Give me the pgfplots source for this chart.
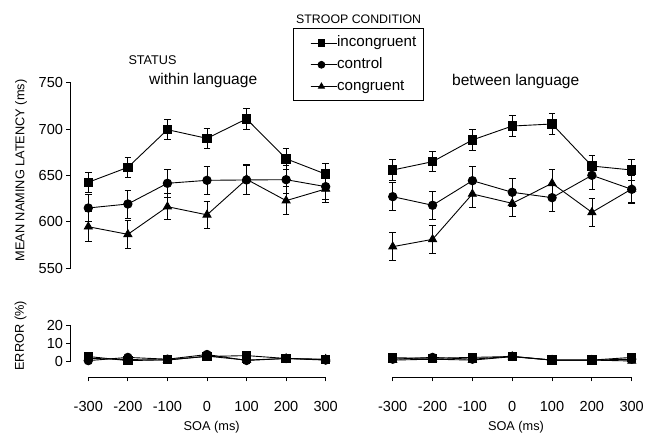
\documentclass[border=0pt]{standalone}
\usepackage{fontspec}
\setmainfont{Liberation Sans}
\usepackage{pgfplots}
\pgfplotsset{compat=1.18}
\usepackage{pgfplotstable}

% ---- latency data (ms) with error bars ----
\pgfplotstableread{
x y e
-300 642.7 11
-200 658.8 11
-100 699.4 11
0 690.0 11
100 711.0 11
200 668.0 11
300 651.5 11
}\LIncong
\pgfplotstableread{
x y e
-300 615.0 15
-200 619.3 15
-100 641.6 15
0 644.8 15
100 645.2 16
200 645.5 15
300 638.0 14
}\LControl
\pgfplotstableread{
x y e
-300 594.8 16
-200 586.6 15
-100 616.4 14
0 607.6 15
100 645.9 16
200 622.9 15
300 635.5 15
}\LCong
\pgfplotstableread{
x y e
-300 655.9 11
-200 664.9 11
-100 688.3 11
0 703.3 11
100 705.5 11
200 660.2 11
300 655.9 11
}\RIncong
\pgfplotstableread{
x y e
-300 627.2 15
-200 617.9 15
-100 644.4 15
0 631.9 15
100 626.1 15
200 650.2 15
300 635.1 15
}\RControl
\pgfplotstableread{
x y e
-300 573.3 15
-200 581.2 15
-100 630.1 14
0 620.0 14.5
100 641.6 15
200 610.3 15
300 635.5 15
}\RCong
% ---- error rates (%) ----
\pgfplotstableread{
x inc con cng
-300 2.5 0.2 1.5
-200 0.2 2.0 0.8
-100 0.7 1.0 0.5
0 2.5 3.6 2.7
100 3.0 0.3 0.5
200 1.4 1.4 1.4
300 0.7 0.5 1.0
}\LErr
\pgfplotstableread{
x inc con cng
-300 1.8 1.0 0.5
-200 1.5 2.0 1.0
-100 2.0 1.0 0.5
0 2.5 2.6 2.4
100 0.5 0.5 0.5
200 0.5 0.5 0.5
300 2.0 1.0 0.0
}\RErr

\newcommand\legfont{\fontsize{15.2}{17}\selectfont}

\pgfplotsset{
  base/.style={scale only axis, clip=false,
    /pgf/number format/assume math mode=true,
    tick label style={font=\fontsize{14.6}{16}\selectfont, black},
    tick align=outside, major tick length=4bp,
    tick style={black, line width=0.8pt},
    axis line style={line width=0.8pt, black},
    label style={font=\fontsize{12.8}{14}\selectfont}},
  ser/.style={black, line width=0.9pt, mark size=4.2bp,
    mark options={solid, fill=black}},
  ser2/.style={ser, mark size=4.6bp},
  eb/.style={error bars/.cd, y dir=both, y explicit, error mark=-,
    error mark options={rotate=90, mark size=3.3bp, line width=0.8pt, black},
    error bar style={line width=0.8pt, black}},
}

\begin{document}
\begin{tikzpicture}
\useasboundingbox (0bp,0bp) rectangle (646bp,436bp);

% legend frame
\draw[line width=0.8pt] (293.3bp,336bp) rectangle (423.3bp,407.7bp);

% ===== left latency =====
\begin{axis}[base, at={(70.5bp,167.7bp)}, anchor=south west,
  width=263.1bp, height=185.6bp,
  xmin=-345, xmax=320, ymin=550, ymax=750,
  axis y line*=left, axis x line=none, xtick=\empty,
  ytick={550,600,650,700,750}, ytick pos=left,
  ylabel={MEAN NAMING LATENCY (ms)},
  y label style={at={(axis description cs:-0.188,0.527)}, anchor=center},
  legend cell align=left,
  legend image code/.code={%
     \path (0bp,0bp) -- (26bp,0bp);
     \draw[mark repeat=2,mark phase=2,#1,mark size=3.4bp]
     plot coordinates {(0bp,0bp) (10.8bp,0bp) (21.6bp,0bp)};},
  legend style={at={(0.9103,1.0965)}, anchor=west, draw=none, fill=none,
    inner sep=0bp, row sep=7.2bp, font=\legfont,
    nodes={inner sep=0bp, text height=11bp, text depth=3.5bp}},
]
\addplot[ser, mark=square*, eb] table[x=x, y=y, y error=e] {\LIncong};
\addlegendentry{incongruent}
\addplot[ser, mark=*, eb] table[x=x, y=y, y error=e] {\LControl};
\addlegendentry{control}
\addplot[ser2, mark=triangle*, eb] table[x=x, y=y, y error=e] {\LCong};
\addlegendentry{congruent}
\end{axis}

% ===== left error =====
\begin{axis}[base, at={(70.5bp,75bp)}, anchor=south west,
  width=263.1bp, height=36bp,
  xmin=-345, xmax=320, ymin=0, ymax=20,
  axis y line*=left, axis x line=none, xtick=\empty,
  ytick={0,10,20}, ytick pos=left,
  ylabel={ERROR (\%)},
  y label style={at={(axis description cs:-0.190,0.70)}, anchor=center},
]
\addplot[ser, mark=square*] table[x=x, y=inc] {\LErr};
\addplot[ser, mark=*] table[x=x, y=con] {\LErr};
\addplot[ser2, mark=triangle*] table[x=x, y=cng] {\LErr};
\end{axis}

% ===== left x axis =====
\begin{axis}[base, at={(88.3bp,58.7bp)}, anchor=south west,
  width=237.4bp, height=1bp,
  xmin=-300, xmax=300, ymin=0, ymax=1,
  axis x line*=bottom, axis y line=none, ytick=\empty,
  xtick={-300,-200,...,300}, xtick pos=bottom,
  xticklabel style={yshift=-17bp},
  xlabel={SOA (ms)},
  x label style={at={(axis description cs:0.5,0)}, anchor=center, yshift=-50bp, xshift=4.7bp},
]
\end{axis}

% ===== right latency =====
\begin{axis}[base, at={(374.8bp,167.7bp)}, anchor=south west,
  width=264.9bp, height=185.6bp,
  xmin=-345, xmax=320, ymin=550, ymax=750,
  axis lines=none, xtick=\empty, ytick=\empty,
]
\addplot[ser, mark=square*, eb] table[x=x, y=y, y error=e] {\RIncong};
\addplot[ser, mark=*, eb] table[x=x, y=y, y error=e] {\RControl};
\addplot[ser2, mark=triangle*, eb] table[x=x, y=y, y error=e] {\RCong};
\end{axis}

% ===== right error =====
\begin{axis}[base, at={(374.8bp,75bp)}, anchor=south west,
  width=264.9bp, height=36bp,
  xmin=-345, xmax=320, ymin=0, ymax=20,
  axis lines=none, xtick=\empty, ytick=\empty,
]
\addplot[ser, mark=square*] table[x=x, y=inc] {\RErr};
\addplot[ser, mark=*] table[x=x, y=con] {\RErr};
\addplot[ser2, mark=triangle*] table[x=x, y=cng] {\RErr};
\end{axis}

% ===== right x axis =====
\begin{axis}[base, at={(392.7bp,58.7bp)}, anchor=south west,
  width=239bp, height=1bp,
  xmin=-300, xmax=300, ymin=0, ymax=1,
  axis x line*=bottom, axis y line=none, ytick=\empty,
  xtick={-300,-200,...,300}, xtick pos=bottom,
  xticklabel style={yshift=-17bp},
  xlabel={SOA (ms)},
  x label style={at={(axis description cs:0.5,0)}, anchor=center, yshift=-50bp, xshift=3.8bp},
]
\end{axis}

% ===== titles =====
\node[anchor=base west, inner sep=0, font=\fontsize{12.4}{14}\selectfont] at (296bp,412.7bp) {STROOP CONDITION};
\node[anchor=base west, inner sep=0, font=\fontsize{12.7}{14}\selectfont] at (128.3bp,371.7bp) {STATUS};
\node[anchor=base west, inner sep=0, font=\fontsize{15.6}{17}\selectfont] at (149bp,351.7bp) {within language};
\node[anchor=base west, inner sep=0, font=\fontsize{15.6}{17}\selectfont] at (452bp,350.5bp) {between language};
\end{tikzpicture}
\end{document}
